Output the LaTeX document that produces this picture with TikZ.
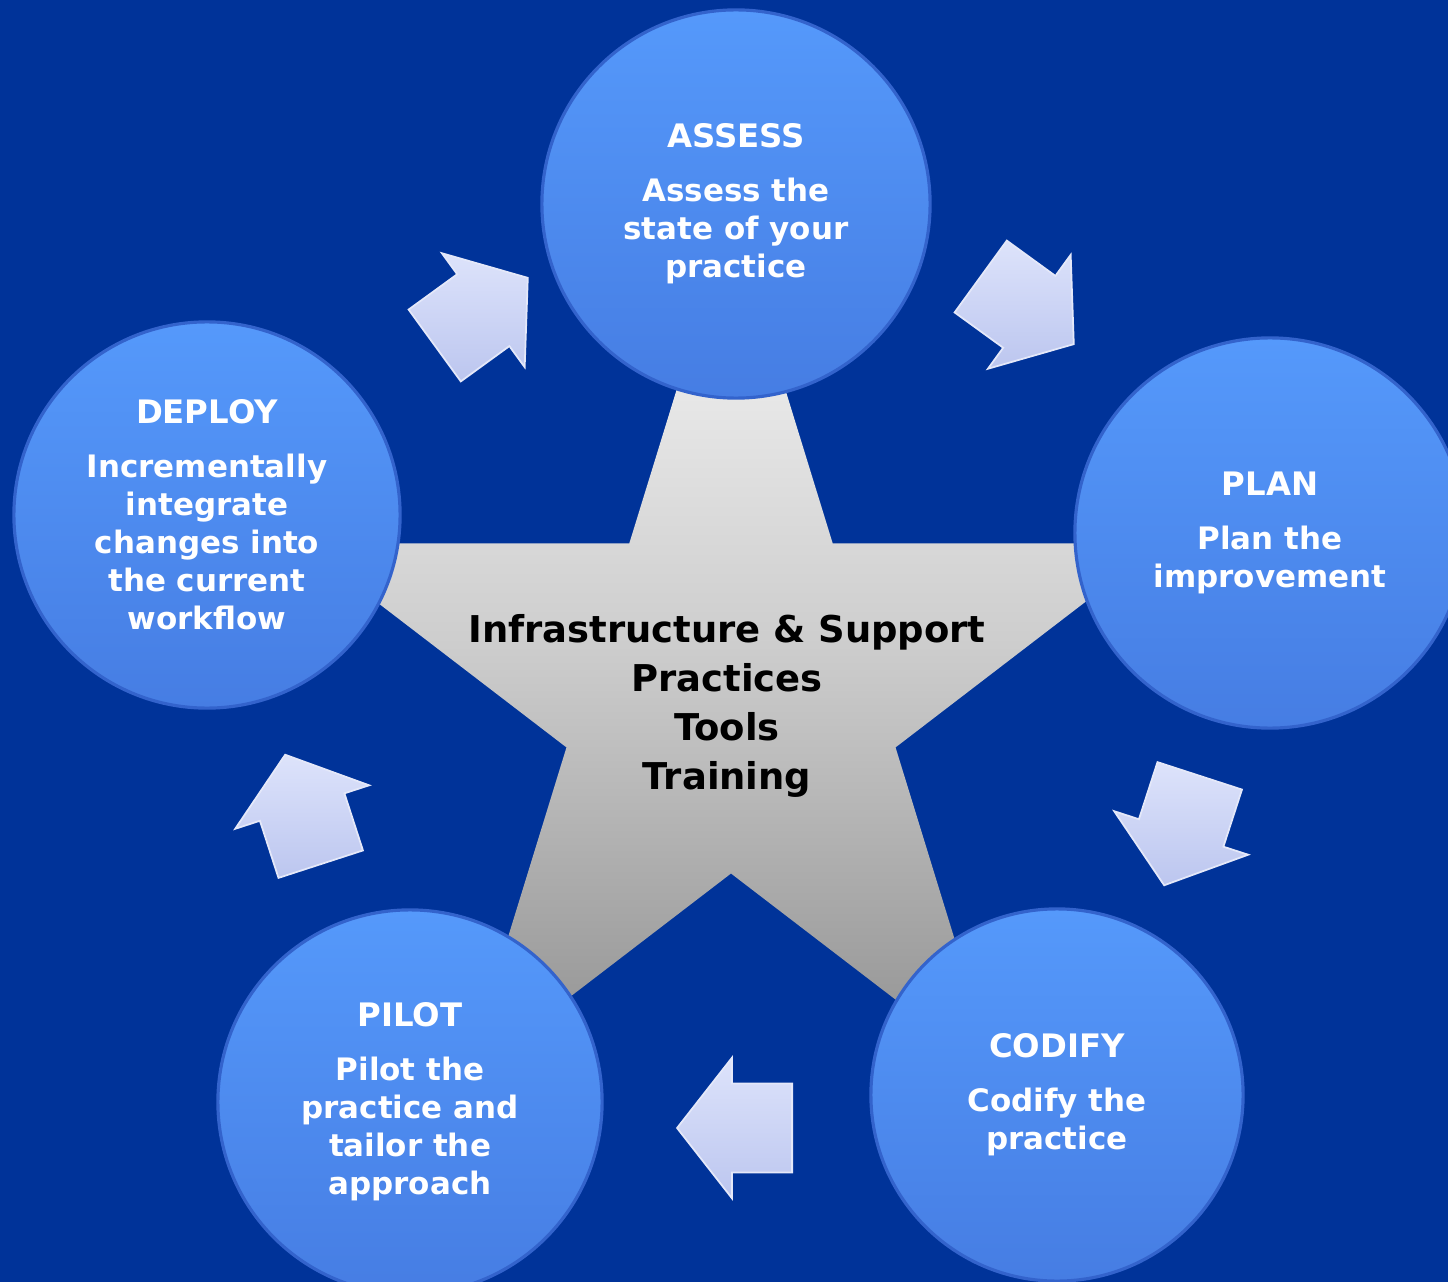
\documentclass[tikz,border=0pt]{standalone}
\usepackage{fontspec}
\setmainfont{DejaVu Sans}
\usetikzlibrary{positioning,shapes.geometric,shapes.arrows}
\definecolor{cBack}{HTML}{003399}
\definecolor{cDiscTop}{HTML}{5599FB}
\definecolor{cDiscBot}{HTML}{467DE3}
\definecolor{cRim}{HTML}{3363CC}
\definecolor{cStarTop}{HTML}{FAFAFA}
\definecolor{cStarMid}{HTML}{CDCDCD}
\definecolor{cStarBot}{HTML}{8F8F8F}
\definecolor{cArrTop}{HTML}{DDE3FB}
\definecolor{cArrBot}{HTML}{BCC6EF}
\newcommand{\stagetitle}[1]{{\fontsize{9.2}{10.8}\selectfont #1}\\[4.5pt]}
\tikzset{
  disc/.style={circle,inner sep=0pt,align=center,text=white,font=\fontsize{8.8}{10.8}\selectfont\bfseries,
    top color=cDiscTop,bottom color=cDiscBot,draw=cRim,line width=0.9pt},
  starbox/.style={star,star points=5,star point ratio=2.618,minimum size=9.55cm,inner sep=0pt,xscale=0.948,
    top color=cStarTop,bottom color=cStarBot,middle color=cStarMid},
  coretext/.style={align=center,text=black,font=\fontsize{10.5}{13.9}\selectfont\bfseries},
  flowarrow/.style={single arrow,single arrow head extend=0.26cm,single arrow tip angle=104,
    minimum height=1.15cm,minimum width=1.39cm,inner xsep=0pt,inner ysep=0.435cm,anchor=tail,
    top color=cArrTop,bottom color=cArrBot,draw=white!60!cArrBot,line width=0.5pt}}

\begin{document}
\begin{tikzpicture}[x=0.01cm,y=-0.01cm]
\useasboundingbox (0,0) rectangle (1448,1282);
\fill[cBack] (0,0) rectangle (1448,1282);
\node[starbox] (core) at (731,691) {};
\node[coretext] (focus) at (727,706) {Infrastructure \& Support\\Practices\\Tools\\Training};
\node[flowarrow,rotate=36] (a1) at (434,346) {};
\node[flowarrow,rotate=-36] (a2) at (980,276) {};
\node[flowarrow,rotate=-108] (a3) at (1200,775) {};
\node[flowarrow,rotate=180] (a4) at (793,1128) {};
\node[flowarrow,rotate=108] (a5) at (321,865) {};
\node[disc,minimum size=3.88cm] (assess) at (736,204) {\stagetitle{ASSESS}Assess the\\state of your\\practice};
\node[disc,minimum size=3.90cm] (plan) at (1270,533) {\stagetitle{PLAN}Plan the\\improvement};
\node[disc,minimum size=3.72cm] (codify) at (1057,1095) {\stagetitle{CODIFY}Codify the\\practice};
\node[disc,minimum size=3.84cm] (pilot) at (410,1102) {\stagetitle{PILOT}Pilot the\\practice and\\tailor the\\approach};
\node[disc,minimum size=3.86cm] (deploy) at (207,515) {\stagetitle{DEPLOY}Incrementally\\integrate\\changes into\\the current\\workflow};
\end{tikzpicture}
\end{document}
